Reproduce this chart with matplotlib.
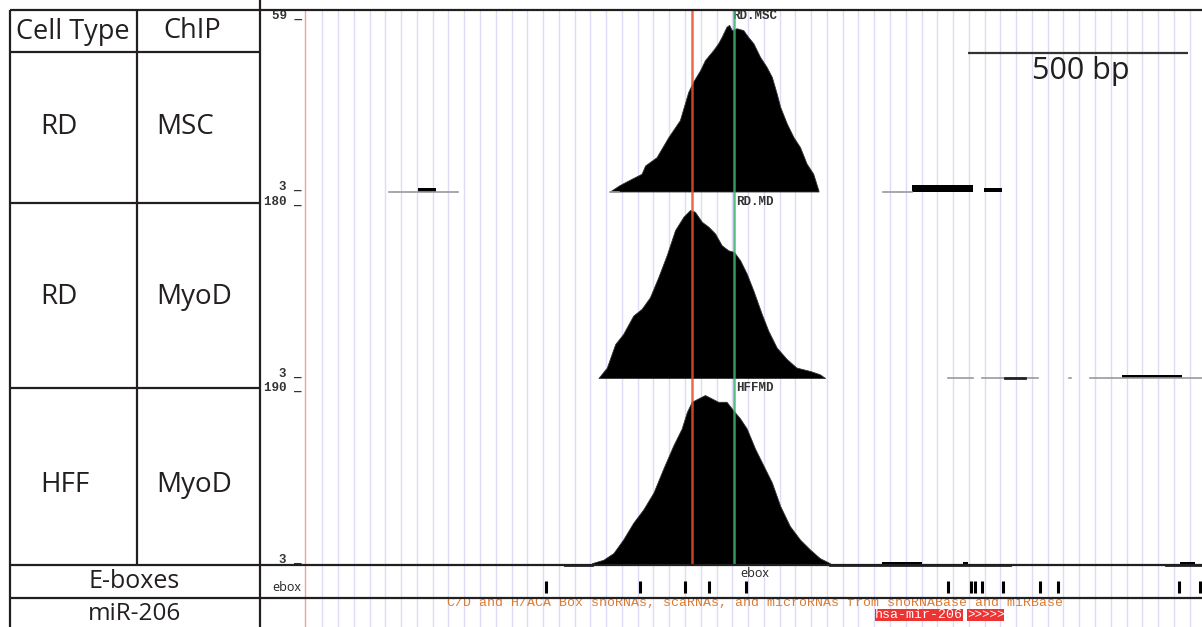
import matplotlib
matplotlib.use("Agg")
import matplotlib.pyplot as plt
from matplotlib.patches import Rectangle

# ---- figure geometry (pixels) ----
W, H = 1202, 627
BP_PER_PX = 500 / 220.0          # from the 500 bp scale bar
X0_PX = 305                      # pixel column of bp 0
TRACK_X0 = 261
BP_MIN = (TRACK_X0 - X0_PX) * BP_PER_PX
BP_MAX = (W - X0_PX) * BP_PER_PX

# ---- table content ----
cell_types = ["RD", "RD", "HFF"]
chips = ["MSC", "MyoD", "MyoD"]
track_names = ["RD.MSC", "RD.MD", "HFFMD"]
track_max = [59, 180, 190]
track_min = 3

# ---- RD.MSC signal ----
msc_pos = [693, 714, 735, 765, 773, 799, 826, 852, 871, 882, 898, 909, 928, 939, 947, 958, 964,
           970, 981, 996, 1007, 1019, 1034, 1049, 1061, 1072, 1080, 1095, 1110, 1125, 1140, 1155, 1167]
msc_val = [3, 5.0, 6.6, 8.8, 11.5, 14.2, 20.8, 26.3, 35.5, 38.8, 42.6, 45.9, 49.2, 51.4, 53.5, 56.8, 57.4,
           55.7, 56.3, 55.7, 53.5, 51.4, 47.0, 43.7, 40.4, 35.0, 30.6, 25.2, 20.8, 17.5, 12.1, 8.8, 3.3]
msc_thin = [(191, 348), (693, 714), (1314, 1380)]
msc_dark = []
msc_blocks = [(257, 298, 4.2), (1380, 1518, 5.0), (1543, 1584, 4.0)]

# ---- RD.MD signal ----
md_pos = [667, 686, 705, 723, 746, 765, 784, 803, 822, 841, 860, 875, 886, 902, 917, 932, 947, 962,
          975, 989, 1004, 1019, 1038, 1053, 1072, 1095, 1117, 1148, 1170, 1182]
md_val = [3, 13.7, 37.9, 48.2, 67.2, 74.1, 86.1, 106.8, 129.3, 155.1, 168.9, 175.8, 174.1, 163.7, 158.6,
          151.7, 139.6, 134.4, 132.7, 124.1, 110.3, 93.0, 68.9, 51.6, 34.3, 22.4, 13.7, 10.2, 6.8, 3]
md_thin = [(1461, 1518), (1539, 1666), (1737, 1742), (1784, 2039)]
md_dark = [(1591, 1636)]
md_blocks = [(1857, 1993, 6.0)]

# ---- HFF MyoD signal ----
hff_pos = [652, 678, 701, 723, 746, 769, 792, 814, 837, 856, 868, 879, 894, 909, 924, 939, 958, 973,
           989, 1004, 1023, 1042, 1061, 1080, 1102, 1125, 1148, 1170, 1193]
hff_val = [4.4, 8.1, 15.4, 30.0, 48.2, 62.8, 81.0, 106.6, 132.0, 150.3, 168.5, 179.4, 183.1, 186.7, 183.1,
           179.4, 179.4, 170.3, 161.2, 150.3, 128.4, 110.2, 91.9, 66.4, 44.6, 30.0, 19.1, 9.9, 4.4]
hff_thin = [(470, 474), (552, 591), (1609, 1659), (1939, 1957)]
hff_dark = [(591, 652), (1193, 1602), (1957, 2039)]
hff_blocks = [(1311, 1402, 5.5), (1495, 1507, 6.0), (1989, 2023, 5.5)]

# ---- E-boxes and miRNA ----
ebox_pos = [548, 761, 864, 918, 1002, 1461, 1514, 1522, 1539, 1586, 1670, 1711, 1986, 2034]
mir_name = "hsa-mir-206"
mir_start, mir_end = 1505, 1589
mir_track_label = "C/D and H/ACA Box snoRNAs, scaRNAs, and microRNAs from snoRNABase and miRBase"

# reference lines (bp) and browser grid
red_ref_bp = 880
green_ref_bp = 975
grid_start, grid_step, grid_n = 39.3, 35.84, 56
LABEL_BP = 1023

sans = ["Open Sans", "DejaVu Sans"]
mono = ["Liberation Mono", "DejaVu Sans Mono"]
ink = "#231f20"

fig = plt.figure(figsize=(W / 100, H / 100), dpi=100)


def px_axes(x0, y0, x1, y1, z):
    ax = fig.add_axes([x0 / W, 1 - y1 / H, (x1 - x0) / W, (y1 - y0) / H], zorder=z)
    ax.set_axis_off()
    ax.patch.set_alpha(0)
    return ax


# background: grid lines of the browser
bg = px_axes(TRACK_X0, 10, W, H, 0)
bg.set_xlim(BP_MIN, BP_MAX)
bg.set_ylim(0, 1)
for k in range(grid_n):
    bg.axvline(grid_start + k * grid_step, color="#dcdcf4", lw=1)
bg.axvline(0, color="#f5a0a0", lw=1)

# signal tracks
tracks = [
    (20, 191.5, msc_pos, msc_val, msc_thin, msc_dark, msc_blocks),
    (206, 378, md_pos, md_val, md_thin, md_dark, md_blocks),
    (392, 564.5, hff_pos, hff_val, hff_thin, hff_dark, hff_blocks),
]
for i, (ytop, ybot, pos, val, thin, dark, blocks) in enumerate(tracks):
    ax = px_axes(TRACK_X0, ytop, W, ybot, 1)
    ax.set_xlim(BP_MIN, BP_MAX)
    ax.set_ylim(track_min, track_max[i])
    ax.fill_between(pos, val, track_min, color="black", lw=0.6, edgecolor="#333333")
    for a, b in thin:
        ax.plot([a, b], [track_min, track_min], color="#9a9a9a", lw=1.2, clip_on=False)
    for a, b in dark:
        ax.plot([a, b], [track_min, track_min], color="#222222", lw=2, clip_on=False)
    for a, b, v in blocks:
        ax.fill_between([a, b], [v, v], track_min, color="black", lw=0)
    # scale labels
    for v in (track_max[i], track_min):
        ax.annotate(f"{v} _", xy=(BP_MIN, v), xytext=(29.5, 3.2), textcoords="offset points",
                    ha="right", va="center", fontsize=9, family=mono, weight="bold", color="#333333",
                    annotation_clip=False)
    ax.annotate(track_names[i], xy=(LABEL_BP, track_max[i]), xytext=(0, 2.6), textcoords="offset points",
                ha="center", va="center", fontsize=9, family=mono, weight="bold", color="#333333",
                annotation_clip=False)

# red / green reference lines across the ChIP tracks
ref = px_axes(TRACK_X0, 10, W, 565, 2)
ref.set_xlim(BP_MIN, BP_MAX)
ref.set_ylim(0, 1)
ref.axvline(red_ref_bp, color="#e8502a", lw=1.8, alpha=0.85)
ref.axvline(green_ref_bp, color="#3cb371", lw=1.8, alpha=0.85)

# E-box track
eb = px_axes(TRACK_X0, 565, W, 598, 1)
eb.set_xlim(BP_MIN, BP_MAX)
eb.set_ylim(0, 1)
eb.vlines(ebox_pos, 0.15, 0.52, color="black", lw=2.2)
eb.text(-41, 0.33, "ebox", ha="center", va="center", fontsize=9, family=sans, color="#222222")
eb.text(LABEL_BP, 0.73, "ebox", ha="center", va="center", fontsize=9, family=sans, color="#222222")

# miRNA track
mi = px_axes(TRACK_X0, 598, W, H, 1)
mi.set_xlim(BP_MIN, BP_MAX)
mi.set_ylim(0, 1)
mi.text(LABEL_BP, 0.83, mir_track_label, ha="center", va="center", fontsize=9.5,
        family=mono, color="#e07a2e")
lbl_w = 200
mi.add_patch(Rectangle((mir_start - lbl_w - 10, 0.2), lbl_w, 0.42, color="#ee3333", lw=0))
mi.text(mir_start - 10 - lbl_w / 2, 0.41, mir_name, ha="center", va="center", fontsize=9.5,
        family=mono, color="white")
mi.add_patch(Rectangle((mir_start, 0.2), mir_end - mir_start, 0.42, color="#ee3333", lw=0))
mi.text((mir_start + mir_end) / 2, 0.41, ">>>>>", ha="center", va="center", fontsize=9,
        family=mono, color="white")

# table frame, labels, scale bar (pixel space)
fr = px_axes(0, 0, W, H, 3)
fr.set_xlim(0, W)
fr.set_ylim(H, 0)
lw = 1.6
fr.hlines([10, 565, 598], 10, W, color=ink, lw=lw)
fr.hlines([52, 203, 388], 10, 260, color=ink, lw=lw)
fr.vlines(10, 10, H, color=ink, lw=lw)
fr.vlines(137, 10, 565, color=ink, lw=lw)
fr.vlines(260, 0, H, color=ink, lw=lw)

fs = 20
fr.text(73, 32, "Cell Type", ha="center", va="center", fontsize=fs - 0.5, family=sans, color=ink)
fr.text(192, 31, "ChIP", ha="center", va="center", fontsize=fs - 0.5, family=sans, color=ink)
row_y = [127, 297, 485]
for ct, cp, y in zip(cell_types, chips, row_y):
    fr.text(40, y, ct, ha="left", va="center", fontsize=fs, family=sans, color=ink)
    fr.text(156, y, cp, ha="left", va="center", fontsize=fs, family=sans, color=ink)
fr.text(134, 581, "E-boxes", ha="center", va="center", fontsize=18, family=sans, color=ink)
fr.text(134, 614, "miR-206", ha="center", va="center", fontsize=17.5, family=sans, color=ink)

# scale bar
fr.hlines(52.5, 968, 1188, color="#333333", lw=1.6)
fr.text(1081, 71, "500 bp", ha="center", va="center", fontsize=22, family=sans, color=ink)

fig.savefig("out.png", dpi=100)
